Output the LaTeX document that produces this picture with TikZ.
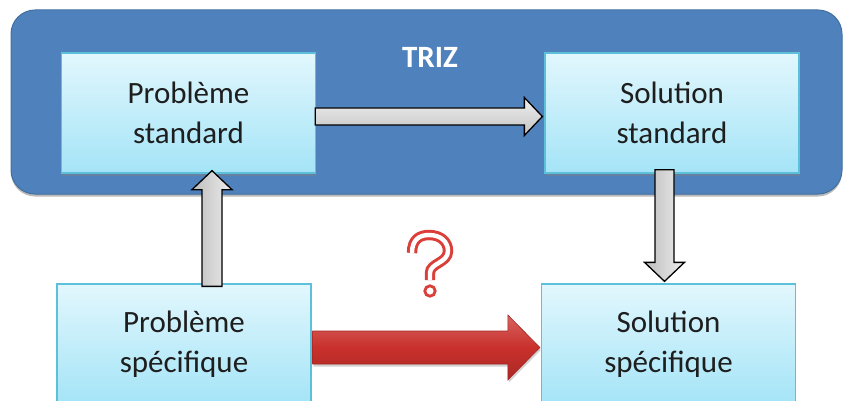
\documentclass[tikz,border=0pt]{standalone}
\usepackage{fontspec}
\setmainfont{Carlito}
\usetikzlibrary{calc,shadows}

\definecolor{trizblue}{HTML}{4F81BD}
\definecolor{trizedge}{HTML}{41709F}
\definecolor{boxtop}{HTML}{E2F7FD}
\definecolor{boxbottom}{HTML}{A4E4F7}
\definecolor{boxedge}{HTML}{5CC0DA}
\definecolor{arrowred}{HTML}{C9302C}
\definecolor{qred}{HTML}{DA3F3A}
\definecolor{labeltext}{HTML}{1E1E1E}

% block arrow: style, tail, tip, shaft half width, head half width, head length
\newcommand\blockarrow[6]{%
  \coordinate (hb) at ($(#3)!#6!(#2)$);
  \path[#1] ($(#2)!#4!90:(#3)$) -- ($(hb)!#4!90:(#3)$) -- ($(hb)!#5!90:(#3)$)
    -- (#3) -- ($(hb)!#5!-90:(#3)$) -- ($(hb)!#4!-90:(#3)$) -- ($(#2)!#4!-90:(#3)$) -- cycle;
}

\tikzset{
  stage/.style={draw=boxedge, line width=1.3pt, top color=boxtop, bottom color=boxbottom,
    minimum width=254pt, minimum height=120pt, align=center, text=labeltext,
    font=\fontsize{31}{40}\selectfont},
  raised/.style={drop shadow={shadow xshift=0.5pt, shadow yshift=-2.5pt, opacity=0.45}},
  greyarrow/.style={draw=black, line width=1.3pt, line join=miter, top color=white!94!black,
    bottom color=white!76!black},
  greyvarrow/.style={draw=black, line width=1.3pt, line join=miter, left color=white!74!black,
    right color=white!93!black, shading angle=90},
  redarrow/.style={draw=arrowred!80!black, line width=0.6pt, top color=arrowred!75!white,
    bottom color=arrowred!85!black, middle color=arrowred,
    drop shadow={shadow xshift=1pt, shadow yshift=-2.5pt, opacity=0.35}},
}

\begin{document}
\begin{tikzpicture}[x=1pt,y=-1pt]
  \useasboundingbox (0,0) rectangle (843,401);
  \fill[white] (0,0) rectangle (843,401);

  % TRIZ frame
  \path[fill=trizblue, draw=trizedge, line width=1pt, rounded corners=24pt,
    drop shadow={shadow xshift=0pt, shadow yshift=-2.5pt, opacity=0.55}]
    (11,10) rectangle (842,194);
  \node[text=white, font=\fontsize{31}{36}\selectfont\bfseries] (triz) at (430,57) {TRIZ};

  % four stages
  \node[stage, raised] (ps) at (188.5,113) {Problème\\standard};
  \node[stage, raised] (ss) at (672,113) {Solution\\standard};
  \node[stage] (pp) at (184,344) {Problème\\spécifique};
  \node[stage] (sp) at (668.5,344) {Solution\\spécifique};

  % arrow end points
  \coordinate (abs1) at ($(ps.east)+(-1,3.5)$);
  \coordinate (abs2) at ($(ss.west)+(-2,3.5)$);
  \coordinate (up1) at ($(pp.north)+(28,3)$);
  \coordinate (up2) at ($(ps.south)+(23.5,-3)$);
  \coordinate (dn1) at ($(ss.south)+(-7.5,-4)$);
  \coordinate (dn2) at ($(sp.north)+(-4,-2)$);
  \coordinate (dir1) at ($(pp.east)+(1,3.5)$);
  \coordinate (dir2) at ($(sp.west)+(-1,3.5)$);

  \blockarrow{greyarrow}{abs1}{abs2}{8.5pt}{19pt}{18pt}
  \blockarrow{greyvarrow}{up1}{up2}{10pt}{20pt}{19pt}
  \blockarrow{greyvarrow}{dn1}{dn2}{9.5pt}{20pt}{19pt}
  \blockarrow{redarrow}{dir1}{dir2}{16.5pt}{32.5pt}{32pt}

  % hollow question mark
  \draw[qred, line width=3pt, double=white, double distance=4.4pt, line cap=butt]
    (412,253) .. controls (412,239) and (420,235) .. (429,235)
    .. controls (441,235) and (448,242) .. (448,251)
    .. controls (448,263) and (430,263) .. (430,273) -- (430,280);
  \draw[qred, line width=2.8pt, fill=white] (430,291) circle (5.2);
\end{tikzpicture}
\end{document}
